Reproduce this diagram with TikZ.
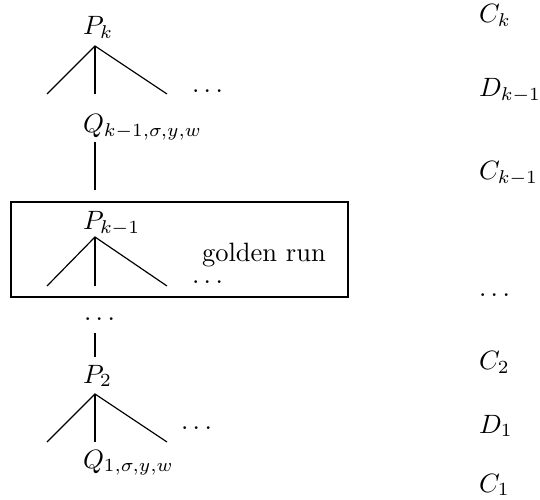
\documentclass[tikz,border=0pt]{standalone}
\begin{document}
\begin{tikzpicture}[x=0.3774pt,y=-0.3774pt,
  lbl/.style={anchor=base west,inner sep=0pt,outer sep=0pt},
  edge/.style={line width=0.45pt},
  framebox/.style={draw,line width=0.45pt,inner sep=0pt,outer sep=0pt,
    minimum width=127.2pt,minimum height=35.85pt}]
\useasboundingbox (0,0) rectangle (540,500);
% top tree
\node[lbl] (Pk) at (83,35) {$P_k$};
\coordinate (a1) at (95,46);
\coordinate (a1l) at (47,94);
\coordinate (a1m) at (95,94);
\coordinate (a1r) at (167,94);
\draw[edge] (a1l) -- (a1) -- (a1r);
\draw[edge] (a1) -- (a1m);
\node[lbl] (d1) at (192,93) {$\ldots$};
\node[lbl] (Qk) at (83,133) {$Q_{k-1,\sigma,y,w}$};
\coordinate (v1t) at (95,142);
\coordinate (v1b) at (95,190);
\draw[edge] (v1t) -- (v1b);
% golden run box
\node[framebox] (box) at (179.5,249.5) {};
\node[lbl] (Pk1) at (83,230) {$P_{k-1}$};
\coordinate (a2) at (95,237);
\coordinate (a2l) at (47,286);
\coordinate (a2m) at (95,286);
\coordinate (a2r) at (167,286);
\draw[edge] (a2l) -- (a2) -- (a2r);
\draw[edge] (a2) -- (a2m);
\node[lbl] (gr) at (202,262) {golden run};
\node[lbl] (d2) at (192,284) {$\ldots$};
% below box
\node[lbl] (d3) at (84,321) {$\ldots$};
\coordinate (v2t) at (95,333);
\coordinate (v2b) at (95,357);
\draw[edge] (v2t) -- (v2b);
\node[lbl] (P2) at (83,383) {$P_2$};
\coordinate (a3) at (95,394);
\coordinate (a3l) at (47,442);
\coordinate (a3m) at (95,442);
\coordinate (a3r) at (167,442);
\draw[edge] (a3l) -- (a3) -- (a3r);
\draw[edge] (a3) -- (a3m);
\node[lbl] (d4) at (181,429) {$\ldots$};
\node[lbl] (Q1) at (83,468) {$Q_{1,\sigma,y,w}$};
% right column
\node[lbl] (Ck) at (479,23) {$C_k$};
\node[lbl] (Dk1) at (479,97) {$D_{k-1}$};
\node[lbl] (Ck1) at (479,180) {$C_{k-1}$};
\node[lbl] (d5) at (479,297) {$\ldots$};
\node[lbl] (C2) at (479,370) {$C_2$};
\node[lbl] (D1) at (479,433) {$D_1$};
\node[lbl] (C1) at (479,492) {$C_1$};
\end{tikzpicture}
\end{document}
